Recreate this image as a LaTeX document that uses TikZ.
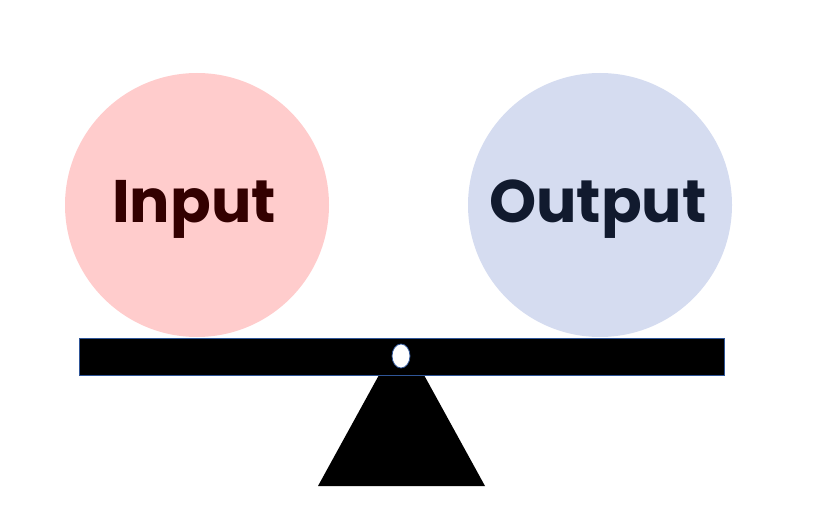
\documentclass[tikz,border=0pt]{standalone}
\usepackage{fontspec}
\setmainfont{Poppins}
\definecolor{inpink}{HTML}{FFCCCC}
\definecolor{outblue}{HTML}{D5DCF0}
\definecolor{intext}{HTML}{330000}
\definecolor{outtext}{HTML}{111A2E}
\definecolor{edgeblue}{HTML}{2F5597}
\begin{document}
\begin{tikzpicture}[x=1pt,y=-1pt,
  ball/.style={circle,minimum size=264pt,inner sep=0pt},
  lbl/.style={font=\fontsize{60}{60}\selectfont\bfseries}]
\useasboundingbox (0,0) rectangle (819,529);
\node[ball,fill=inpink] (in) at (197,205) {};
\node[ball,fill=outblue] (out) at (600,205) {};
\node[lbl,text=intext] (inl) at (194,209) {Input};
\node[lbl,text=outtext] (outl) at (598,209) {Output};
\fill (379,375) -- (424,375) -- (485,486) -- (318,486) -- cycle;
\draw[edgeblue,fill=black,line width=0.8pt] (79,338) rectangle (724,375);
\draw[edgeblue,fill=white,line width=0.8pt] (401,356) ellipse [x radius=9, y radius=12];
\end{tikzpicture}
\end{document}
